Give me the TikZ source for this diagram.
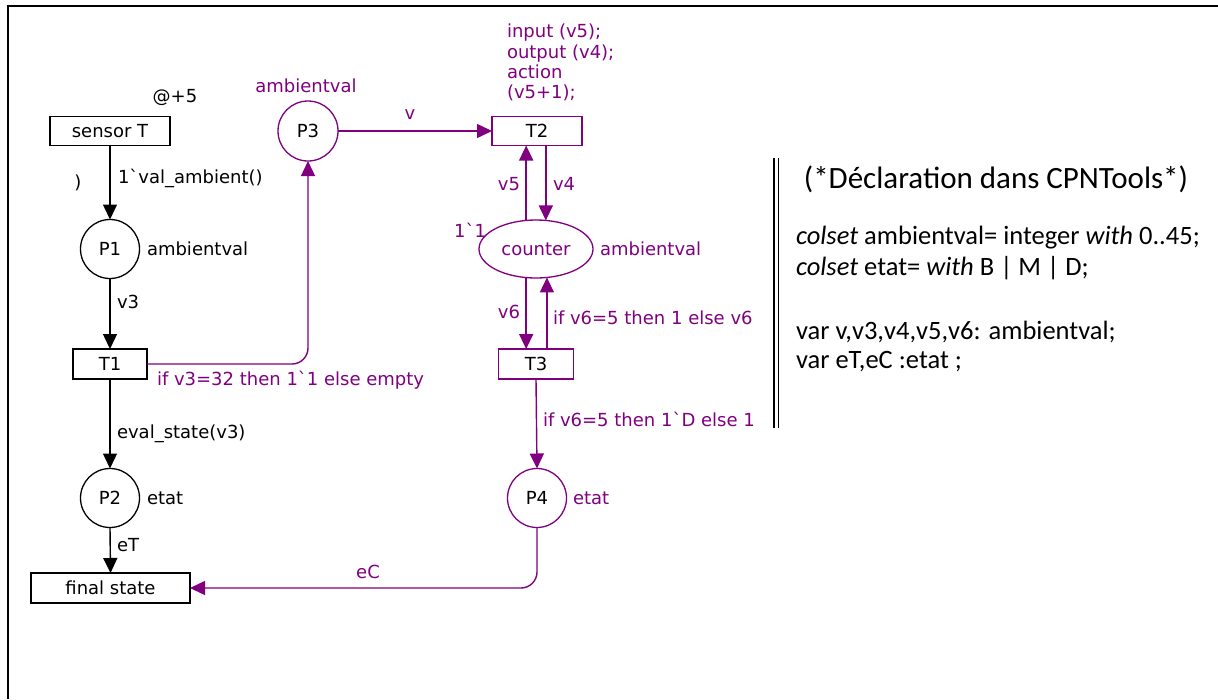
\documentclass[tikz,border=0pt]{standalone}
\usepackage{fontspec}
\usetikzlibrary{arrows.meta,shapes.geometric}
\newfontfamily\cpnfont{DejaVu Sans}
\newfontfamily\calfont{Carlito}
\definecolor{cpnpurple}{RGB}{128,0,128}
\newcommand{\bq}{\symbol{96}}
\tikzset{
  every node/.style={inner sep=0pt, outer sep=0pt, font=\cpnfont\fontsize{18}{20.3}\selectfont},
  blk/.style={draw=black, line width=1.3pt},
  pur/.style={draw=cpnpurple, line width=1.3pt},
  trans/.style={rectangle, minimum height=29pt},
  place/.style={circle, minimum size=59pt},
  arc/.style={line width=1.4pt, -{Triangle[length=15pt,width=14pt]}},
  plab/.style={text=cpnpurple},
  decl/.style={font=\calfont\fontsize{26.5}{30}\selectfont, anchor=west}
}
\begin{document}
\begin{tikzpicture}[x=1pt,y=-1pt]
\useasboundingbox (0,0) rectangle (1218,699);
\fill[white] (0,0) rectangle (1218,699);
% frame
\draw[line width=2pt] (8,699) -- (8,6) -- (1218,6);

% nodes (black part)
\node[blk, trans, minimum width=120pt] (sensor) at (110,131) {sensor T};
\node[blk, place] (P1) at (110,249) {P1};
\node[blk, trans, minimum width=74pt, minimum height=30pt] (T1) at (110,364) {T1};
\node[blk, place] (P2) at (110,498) {P2};
\node[blk, trans, minimum width=159pt, minimum height=30pt] (final) at (110.5,588) {final state};

% purple part
\node[pur, place, minimum size=60pt] (P3) at (308,131) {P3};
\node[pur, trans, minimum width=90pt] (T2) at (537,131) {T2};
\node[pur, ellipse, minimum width=114pt, minimum height=58pt, text=cpnpurple] (counter) at (536,249) {counter};
\node[pur, trans, minimum width=75pt, minimum height=30pt] (T3) at (536,364) {T3};
\node[pur, place] (P4) at (537,498) {P4};

% black arcs
\draw[arc, black] (sensor.south) -- (P1.north);
\draw[arc, black] (P1.south) -- (T1.north);
\draw[arc, black] (T1.south) -- (P2.north);
\draw[arc, black] (P2.south) -- (final.north);

% purple arcs
\draw[arc, cpnpurple, rounded corners=16pt] (T1.east) -| (P3.south);
\draw[arc, cpnpurple] (P3.east) -- (T2.west);
\draw[arc, cpnpurple] (counter.109) -- (counter.109 |- T2.south);
\draw[arc, cpnpurple] (T2.south -| counter.71) -- (counter.71);
\draw[arc, cpnpurple] (counter.-109) -- (counter.-109 |- T3.north);
\draw[arc, cpnpurple] (T3.north -| counter.-69) -- (counter.-69);
\draw[arc, cpnpurple] (T3.south) -- (P4.north);
\draw[arc, cpnpurple, rounded corners=16pt] (P4.south) |- (final.east);

% black labels
\node (at5) at (175,98) {@+5};
\node (paren) at (78,183) {)};
\node[anchor=west] (l1) at (118,178) {1\bq val\_ambient()};
\node[anchor=west] (cs1) at (147,249) {ambientval};
\node[anchor=west] (l2) at (117,302) {v3};
\node[anchor=west] (l3) at (117,434) {eval\_state(v3)};
\node[anchor=west] (cs2) at (147,498) {etat};
\node[anchor=west] (l4) at (117,545) {eT};

% purple labels
\node[plab] (cs3) at (306,86) {ambientval};
\node[plab, anchor=west] (l5) at (157,380) {if v3=32 then 1\bq 1 else empty};
\node[plab] (l6) at (410,115) {v};
\node[plab, anchor=west, align=left] (code) at (507,62.5) {input (v5);\\output (v4);\\action\\(v5+1);};
\node[plab, anchor=east] (l7) at (520,184) {v5};
\node[plab, anchor=west] (l8) at (553,184) {v4};
\node[plab] (init) at (470,230) {1\bq 1};
\node[plab, anchor=west] (cs4) at (600,249) {ambientval};
\node[plab, anchor=east] (l9) at (520,312) {v6};
\node[plab, anchor=west] (l10) at (553,318) {if v6=5 then 1 else v6};
\node[plab, anchor=west] (l11) at (543,419) {if v6=5 then 1\bq D else 1};
\node[plab, anchor=west] (cs5) at (573,498) {etat};
\node[plab] (l12) at (368,572) {eC};

% declarations
\draw[line width=1.5pt] (774,158) -- (774,428);
\draw[line width=1.5pt] (778.5,158) -- (778.5,428);
\node[font=\calfont\fontsize{31}{36}\selectfont] (title) at (996,179) {(*Déclaration dans CPNTools*)};
\node[decl] (d1) at (796,238) {\textit{colset} ambientval= integer \textit{with} 0..45;};
\node[decl] (d2) at (796,268) {\textit{colset} etat= \textit{with} B | M | D;};
\node[decl] (d3) at (796,332) {var v,v3,v4,v5,v6: ambientval;};
\node[decl] (d4) at (796,362) {var eT,eC :etat ;};
\end{tikzpicture}
\end{document}
